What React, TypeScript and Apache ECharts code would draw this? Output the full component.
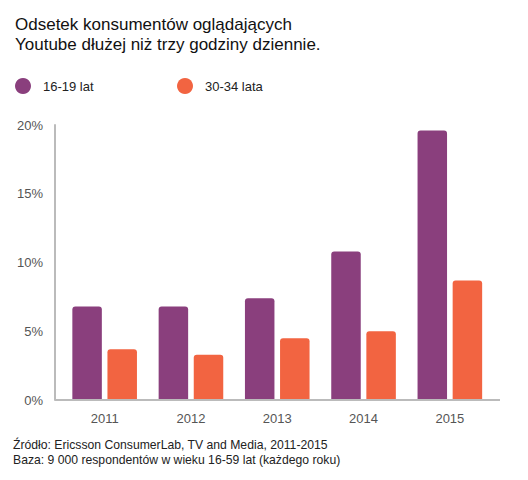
import React, { useEffect, useRef } from "react";
import * as echarts from "echarts";

const categories = ["2011", "2012", "2013", "2014", "2015"];
const teens = [6.8, 6.8, 7.4, 10.8, 19.6];
const adults = [3.7, 3.3, 4.5, 5.0, 8.7];
const seriesNames = ["16-19 lat", "30-34 lata"];
const titleLines = ["Odsetek konsumentów oglądających", "Youtube dłużej niż trzy godziny dziennie."];
const footerLines = [
  "Źródło: Ericsson ConsumerLab, TV and Media, 2011-2015",
  "Baza: 9 000 respondentów w wieku 16-59 lat (każdego roku)",
];

const FONT = "'Liberation Sans', Arial, Helvetica, sans-serif";
const PURPLE = "#8A3F7D";
const ORANGE = "#F26441";

export default function App() {
  const ref = useRef<HTMLDivElement>(null);
  useEffect(() => {
    document.body.style.margin = "0";
    if (!ref.current) return;
    const chart = echarts.init(ref.current, null, { renderer: "svg" });
    const legendCommon = {
      top: 73,
      icon: "circle",
      itemWidth: 16,
      itemHeight: 16,
      textStyle: { fontFamily: FONT, fontSize: 13, color: "#222", padding: [0, 0, 0, 7] },
    };
    chart.setOption({
      animation: false,
      backgroundColor: "#fff",
      title: {
        text: titleLines.join("\n"),
        left: 10,
        top: 9,
        textStyle: { fontFamily: FONT, fontSize: 17, fontWeight: "normal", color: "#111", lineHeight: 20 },
      },
      legend: [
        { ...legendCommon, data: [seriesNames[0]], left: 10 },
        { ...legendCommon, data: [seriesNames[1]], left: 172 },
      ],
      grid: { left: 61.5, right: 35, top: 125, bottom: 80 },
      xAxis: {
        type: "category",
        data: categories,
        axisLine: { show: false },
        axisTick: { show: false },
        axisLabel: { fontFamily: FONT, fontSize: 13, color: "#555", margin: 12 },
      },
      yAxis: {
        type: "value",
        min: 0,
        max: 20,
        interval: 5,
        offset: 6.5,
        axisLine: { show: true, lineStyle: { color: "#bbb", width: 2 } },
        axisTick: { show: false },
        splitLine: { show: false },
        axisLabel: { formatter: "{value}%", fontFamily: FONT, fontSize: 13, color: "#555", margin: 12 },
      },
      graphic: [
        {
          type: "line",
          shape: { x1: 55, y1: 400, x2: 500, y2: 400 },
          style: { stroke: "#bbb", lineWidth: 2 },
          z: 10,
        },
        {
          type: "text",
          left: 13,
          top: 437,
          style: {
            text: footerLines.join("\n"),
            font: `12.2px ${FONT}`,
            fill: "#222",
            lineHeight: 15,
          },
        },
      ],
      series: [
        {
          name: seriesNames[0],
          type: "bar",
          data: teens,
          barWidth: 29.5,
          barGap: "19%",
          itemStyle: { color: PURPLE, borderRadius: [3, 3, 0, 0] },
        },
        {
          name: seriesNames[1],
          type: "bar",
          data: adults,
          barWidth: 29.5,
          itemStyle: { color: ORANGE, borderRadius: [3, 3, 0, 0] },
        },
      ],
    });
    return () => chart.dispose();
  }, []);
  return <div ref={ref} style={{ width: 528, height: 480 }} />;
}
